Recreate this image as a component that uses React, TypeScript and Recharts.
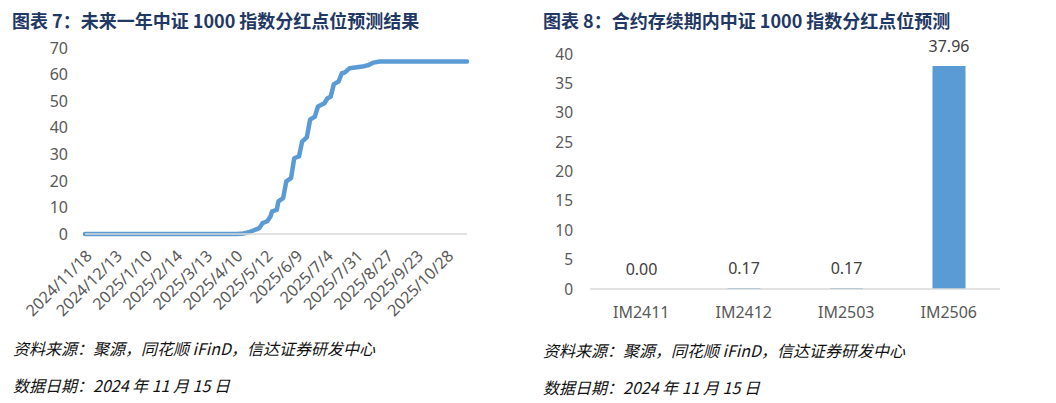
import { LineChart, Line, BarChart, Bar, Cell, XAxis, YAxis, LabelList } from 'recharts';

// trading-day index since 2024/11/18 and forecast dividend points
const tradeDays = [0, 96, 100, 104, 107, 110, 112, 115, 117, 118, 121, 122, 125, 127, 130, 132, 135, 137, 140, 142, 145, 147, 151, 153, 155, 157, 160, 162, 164, 167, 175, 179, 182, 186, 241];
const dividendPoints = [0, 0, 0.2, 0.8, 1.5, 2.2, 4.1, 4.8, 6.6, 8.5, 9.1, 12.3, 13.5, 19.8, 21.0, 28.5, 29.2, 34.8, 36.5, 43.0, 44.2, 48.0, 49.2, 51.1, 51.7, 56.4, 57.4, 60.5, 60.8, 62.4, 63.0, 63.6, 64.5, 64.9, 64.9];

const tickDays = [0, 19, 38, 57, 76, 95, 114, 133, 152, 171, 190, 209, 228];
const tickDates = ['2024/11/18', '2024/12/13', '2025/1/10', '2025/2/14', '2025/3/13', '2025/4/10', '2025/5/12', '2025/6/9', '2025/7/4', '2025/7/31', '2025/8/27', '2025/9/23', '2025/10/28'];
const leftTicks = [0, 10, 20, 30, 40, 50, 60, 70];

const contracts = ['IM2411', 'IM2412', 'IM2503', 'IM2506'];
const contractPoints = [0, 0.17, 0.17, 37.96];
const rightTicks = [0, 5, 10, 15, 20, 25, 30, 35, 40];

const lineData = tradeDays.map((day, i) => ({ day, value: dividendPoints[i] }));
const barData = contracts.map((name, i) => ({ name, value: contractPoints[i] }));

const BLUE = '#5B9BD5';
const TICK = '#595959';
const AXIS = '#D9D9D9';
const TITLE = '#1F3864';
const sans = '"Noto Sans", "Noto Sans CJK SC", sans-serif';
const cjk = '"Noto Sans CJK SC", "Noto Sans", sans-serif';

const titleStyle = {
  position: 'absolute' as const,
  fontFamily: cjk,
  fontSize: 18,
  lineHeight: '18px',
  fontWeight: 700,
  color: TITLE,
  whiteSpace: 'nowrap' as const,
};

const noteStyle = {
  position: 'absolute' as const,
  fontFamily: cjk,
  fontSize: 16,
  lineHeight: '16px',
  fontStyle: 'italic',
  color: '#111',
  whiteSpace: 'nowrap' as const,
};

function Notes({ left, top }: { left: number; top: number }) {
  return (
    <>
      <div style={{ ...noteStyle, left, top }}>资料来源：聚源，同花顺 iFinD，信达证券研发中心</div>
      <div style={{ ...noteStyle, left, top: top + 37 }}>数据日期：2024 年 11 月 15 日</div>
    </>
  );
}

// value label above each bar; the zero bar gets a 1px invisible rect so it keeps its label
function BarValue(props: any) {
  const { x, y, width, height, value } = props;
  if (x == null || y == null) return null;
  const top = Number(value) === 0 ? Number(y) + Number(height) : Number(y);
  return (
    <text x={Number(x) + Number(width) / 2} y={top - 14} textAnchor="middle" fill="#404040"
      fontSize={16} fontFamily={sans}>
      {Number(value).toFixed(2)}
    </text>
  );
}

export default function App() {
  return (
    <div style={{ position: 'absolute', left: 0, top: 0, width: 1056, height: 403, background: '#fff', fontFamily: sans }}>
      <div style={{ ...titleStyle, left: 12, top: 11 }}>图表 7：未来一年中证 1000 指数分红点位预测结果</div>
      <div style={{ ...titleStyle, left: 543, top: 11 }}>图表 8：合约存续期内中证 1000 指数分红点位预测</div>

      <div style={{ position: 'absolute', left: 0, top: 0 }}>
        <LineChart width={480} height={340} data={lineData} margin={{ top: 48, right: 13, left: 0, bottom: 0 }}>
          <XAxis type="number" dataKey="day" domain={[0, 241]} ticks={tickDays} interval={0}
            tickFormatter={(v) => tickDates[tickDays.indexOf(v)] ?? ''}
            angle={-45} tick={{ fontSize: 16, fill: TICK, textAnchor: 'end' }}
            axisLine={{ stroke: AXIS, strokeWidth: 1.5 }} tickLine={false} tickSize={0} tickMargin={15} height={106} />
          <YAxis domain={[0, 70]} ticks={leftTicks} interval={0} tick={{ fontSize: 16, fill: TICK }}
            axisLine={false} tickLine={false} tickSize={0} tickMargin={17} width={85} />
          <Line type="linear" dataKey="value" stroke={BLUE} strokeWidth={4.5} dot={false}
            strokeLinejoin="round" strokeLinecap="round" isAnimationActive={false} />
        </LineChart>
      </div>

      <div style={{ position: 'absolute', left: 530, top: 0 }}>
        <BarChart width={526} height={340} data={barData} margin={{ top: 54, right: 56, left: 0, bottom: 0 }}>
          <XAxis dataKey="name" tick={{ fontSize: 16, fill: TICK }} axisLine={{ stroke: AXIS, strokeWidth: 1.5 }}
            tickLine={false} tickSize={0} tickMargin={18} height={51} />
          <YAxis domain={[0, 40]} ticks={rightTicks} interval={0} tick={{ fontSize: 15.5, fill: TICK }}
            axisLine={false} tickLine={false} tickSize={0} tickMargin={17} width={60} />
          <Bar dataKey="value" fill={BLUE} barSize={33} isAnimationActive={false}
            minPointSize={(v: any) => (Number(v) === 0 ? 1 : 0)}>
            {barData.map((d) => (
              <Cell key={d.name} fill={d.value === 0 ? 'transparent' : BLUE} />
            ))}
            <LabelList dataKey="value" content={<BarValue />} />
          </Bar>
        </BarChart>
      </div>

      <Notes left={13} top={340} />
      <Notes left={543} top={342} />
    </div>
  );
}
